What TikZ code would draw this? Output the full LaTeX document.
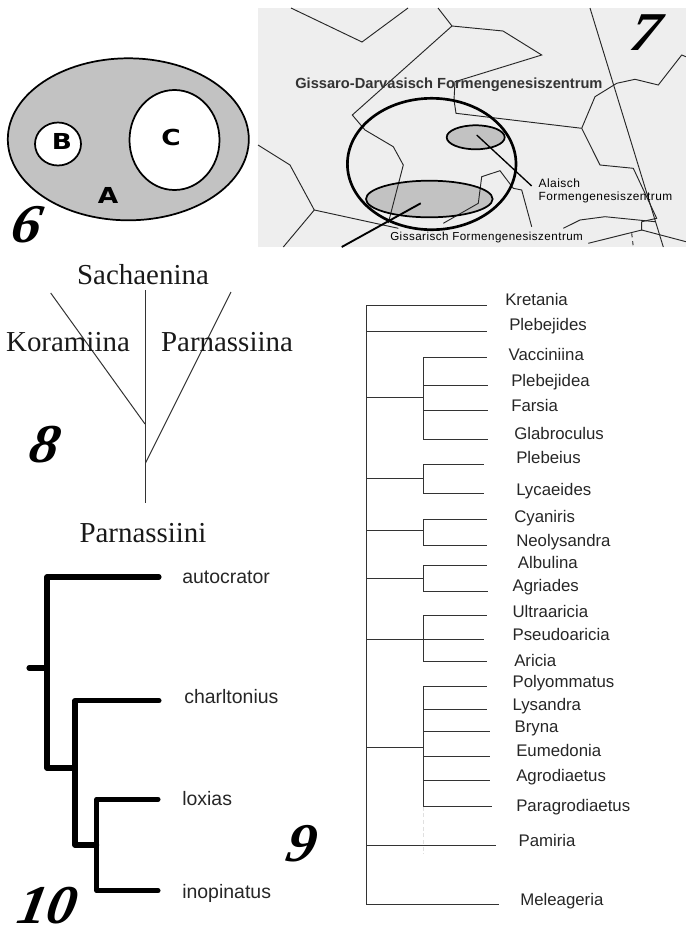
\documentclass[tikz,border=0pt]{standalone}
\usepackage{fontspec}
\usepackage{xcolor}
\setmainfont{Liberation Sans}
\newfontfamily\timesfont{Liberation Serif}
\newfontfamily\spacedfont[LetterSpace=4]{Liberation Sans}
\newfontfamily\blockfont{DejaVu Sans}

\tikzset{
  panelno/.style={inner sep=0pt, xslant=0.18, xscale=1.08, transform shape, font=\timesfont\bfseries\itshape\fontsize{41}{41}\selectfont},
  blockletter/.style={inner sep=0pt, xscale=1.2, transform shape, font=\blockfont\bfseries\fontsize{16.5}{17}\selectfont, text=black},
  maproad/.style={draw=black!85, line width=0.7pt},
  taxon/.style={anchor=base west, inner sep=0pt, font=\fontsize{12.6}{14}\selectfont, text=black!85},
  bigtaxon/.style={inner sep=0pt, font=\timesfont\fontsize{21.7}{24}\selectfont, text=black!90},
  species/.style={anchor=base west, inner sep=0pt, font=\fontsize{14.6}{16}\selectfont, text=black!85},
  thinbranch/.style={draw=black!80, line width=0.75pt},
  thickbranch/.style={draw=black, line width=3.8pt, line cap=round, line join=round},
}

\begin{document}
\begin{tikzpicture}[x=0.75pt,y=-0.75pt]

% Farben
\definecolor{colArea}{HTML}{C2C2C2}
\definecolor{colMap}{HTML}{EEEEEE}

\useasboundingbox (0,0) rectangle (686,929);

% Abbildung 6
\draw[fill=colArea, line width=1.3pt] (128.3,139.3) ellipse (120.5 and 81);
\draw[fill=white, line width=1.3pt] (58,144) ellipse (23 and 21.5);
\draw[fill=white, line width=1.3pt] (174.5,140) ellipse (45 and 50);
\node[blockletter] (letterB) at (62,141.5) {B};
\node[blockletter] (letterC) at (171,137.5) {C};
\node[blockletter] (letterA) at (108,195.5) {A};
\node[panelno] (no6) at (27,225) {6};

% Abbildung 7: Karte
\fill[colMap] (258,8) rectangle (686,247);
\fill[colArea] (429.3,199) ellipse (63.3 and 18.3);
\fill[colArea] (475.7,137.3) ellipse (29 and 12);
\draw[maproad] (291,8) -- (362,42) -- (408,8);
\draw[maproad] (438,8) -- (452,26) -- (503,31) -- (541.7,55) -- (455,81.7) -- (454,100) -- (456,113.3) -- (581.7,128.3);
\draw[maproad] (452,26) -- (352.3,115) -- (365,130) -- (393.3,146.7) -- (403.3,165) -- (388.3,223);
\draw[maproad] (581.7,128.3) -- (595,96.7) -- (616.7,83.3) -- (635,79.3) -- (658.3,85) -- (681.7,55) -- (686,56.7);
\draw[maproad] (581.7,128.3) -- (600,165) -- (633.3,168.3) -- (656.7,218.3) -- (641.7,221.7);
\draw[maproad] (563.3,228.3) -- (580,220) -- (605,216.7) -- (655,221.7);
\draw[maproad] (590,8) -- (663.3,247);
\draw[maproad] (258,145) -- (290,165) -- (314.3,210) -- (398.3,228.3);
\draw[maproad] (314.3,210) -- (283.3,247);
\draw[maproad] (443.3,223.3) -- (478.3,203.3) -- (481.7,176.7) -- (500,170.7) -- (513.3,188.3) -- (521.7,190) -- (531.7,226.7);
\draw[maproad] (641.7,221.7) -- (641.7,230) -- (686,241.7);
\draw[maproad] (588.3,243.3) -- (641.7,230);
\draw[maproad, dashed] (631.7,233.3) -- (633.3,247);
\draw[line width=2pt] (431.7,164) ellipse (84.3 and 65.7);
\draw[line width=1.3pt] (429.3,199) ellipse (63.3 and 18.3);
\draw[line width=1.3pt] (475.7,137.3) ellipse (29 and 12);

% Abbildung 7: Beschriftung
\node[anchor=base west, inner sep=0pt, font=\bfseries\fontsize{11}{12}\selectfont, text=black!80] (zentrum) at (295,88) {Gissaro-Darvasisch Formengenesiszentrum};
\node[anchor=base west, inner sep=0pt, font=\spacedfont\fontsize{9}{10}\selectfont] (alai) at (538.3,187.7) {Alaisch};
\node[anchor=base west, inner sep=0pt, font=\spacedfont\fontsize{8.9}{10}\selectfont] (alaizwei) at (538.3,200.7) {Formengenesiszentrum};
\node[anchor=base west, inner sep=0pt, font=\spacedfont\fontsize{8.7}{10}\selectfont] (gissar) at (390,240.7) {Gissarisch Formengenesiszentrum};
\coordinate (alaiIn) at (476.7,135);
\coordinate (alaiOut) at (531.7,186);
\coordinate (gissarIn) at (420.7,203.3);
\coordinate (gissarOut) at (341.7,247);
\draw[line width=1pt] (alaiIn) -- (alaiOut);
\draw[line width=1.4pt] (gissarIn) -- (gissarOut);
\node[panelno] (no7) at (646,33) {7};

% Abbildung 8
\coordinate (sachaeTop) at (145,290);
\coordinate (parnBase) at (145,503);
\coordinate (koraTop) at (50.7,293);
\coordinate (koraFork) at (145,424);
\coordinate (parnTop) at (231,292);
\coordinate (parnFork) at (145.5,463);
\draw[thinbranch] (sachaeTop) -- (parnBase);
\draw[thinbranch] (koraTop) -- (koraFork);
\draw[thinbranch] (parnTop) -- (parnFork);
\node[bigtaxon] (sachaenina) at (143,275) {Sachaenina};
\node[bigtaxon] (koramiina) at (68,342) {Koramiina};
\node[bigtaxon] (parnassiina) at (227,342) {Parnassiina};
\node[bigtaxon] (parnassiini) at (143,533) {Parnassiini};
\node[panelno] (no8) at (45,445) {8};

% Abbildung 9: Hauptstamm
\coordinate (stemTop) at (366,305);
\coordinate (stemEnd) at (366,904.3);
\draw[thinbranch] (stemTop) -- (stemEnd);

% Einzelne Gattungen
\foreach \nm/\ly/\lx/\ty/\ex in {
  Kretania/305/505/305/486.7,
  Plebejides/330.7/509/331.7/486.7,
  Pamiria/846/518.3/845.3/495.7,
  Meleageria/905/520/904.3/499,
  Pseudoaricia/640/512.3/639/484.3}
{
  \node[taxon] (\nm) at (\lx,\ly) {\nm};
  \coordinate (\nm Start) at (366,\ty);
  \coordinate (\nm Tip) at (\ex,\ty);
  \draw[thinbranch] (\nm Start) -- (\nm Tip);
}

% Gruppen: Ast vom Stamm und senkrechte Verbindung
\foreach \gr/\sy/\ya/\yb in {
  gA/397.3/357.3/439,
  gB/478.7/464/493.3,
  gC/530.7/519/545,
  gD/578.3/565/591,
  gE/639/615/661,
  gF/747.3/686.7/806.7}
{
  \coordinate (\gr Root) at (366,\sy);
  \coordinate (\gr Fork) at (423.3,\sy);
  \coordinate (\gr Up) at (423.3,\ya);
  \coordinate (\gr Down) at (423.3,\yb);
  \draw[thinbranch] (\gr Root) -- (\gr Fork);
  \draw[thinbranch] (\gr Up) -- (\gr Down);
}

% blasse Spur unter der letzten Gruppe
\coordinate (traceEnd) at (423.3,854);
\draw[black!12, line width=0.75pt, densely dashed] (gFDown) -- (traceEnd);

% Gattungen in den Gruppen
\foreach \nm/\ly/\lx/\ty/\ex in {
  Vacciniina/360.7/508.3/357.3/486.7,
  Plebejidea/386/511/385/487.7,
  Farsia/411.7/511/410.7/488,
  Glabroculus/439/514/439/488,
  Plebeius/463.3/516/464/484.3,
  Lycaeides/495/516/493.3/484.3,
  Cyaniris/522.3/514/519/486.7,
  Neolysandra/546/516/545/486.7,
  Albulina/568.3/517.7/565/486.7,
  Agriades/591.7/512.3/591/488,
  Ultraaricia/617.7/512.3/615/486.7,
  Aricia/666/514/661/486.7,
  Polyommatus/687.7/512.3/686.7/486.7,
  Lysandra/710/512.3/709/486.7,
  Bryna/732.3/514.3/731/490,
  Eumedonia/756/516/756.7/490,
  Agrodiaetus/781.7/516/780.7/490,
  Paragrodiaetus/811.7/516/806.7/491.7}
{
  \node[taxon] (\nm) at (\lx,\ly) {\nm};
  \coordinate (\nm Start) at (423.3,\ty);
  \coordinate (\nm Tip) at (\ex,\ty);
  \draw[thinbranch] (\nm Start) -- (\nm Tip);
}
\node[panelno] (no9) at (302,844) {9};

% Abbildung 10
\coordinate (rootStub) at (29,668);
\coordinate (rootJoin) at (47,668);
\coordinate (autoCorner) at (47,577);
\coordinate (autoTip) at (159,577);
\coordinate (firstCorner) at (47,768);
\coordinate (firstFork) at (75,768);
\coordinate (charlCorner) at (75,700.7);
\coordinate (charlTip) at (159,700.7);
\coordinate (secondCorner) at (75,845);
\coordinate (secondFork) at (96.7,845);
\coordinate (loxCorner) at (96.7,799.3);
\coordinate (loxTip) at (158,799.3);
\coordinate (inoCorner) at (96.7,890.7);
\coordinate (inoTip) at (158,890.7);
\draw[thickbranch] (rootStub) -- (rootJoin);
\draw[thickbranch] (autoTip) -- (autoCorner) -- (firstCorner) -- (firstFork);
\draw[thickbranch] (charlTip) -- (charlCorner) -- (secondCorner) -- (secondFork);
\draw[thickbranch] (loxTip) -- (loxCorner) -- (inoCorner) -- (inoTip);
\node[species] (autocrator) at (182,583) {autocrator};
\node[species] (charltonius) at (184,703) {charltonius};
\node[species] (loxias) at (182,805) {loxias};
\node[species] (inopinatus) at (182,898) {inopinatus};
\node[panelno] (no10) at (48,905.5) {10};

\end{tikzpicture}
\end{document}
